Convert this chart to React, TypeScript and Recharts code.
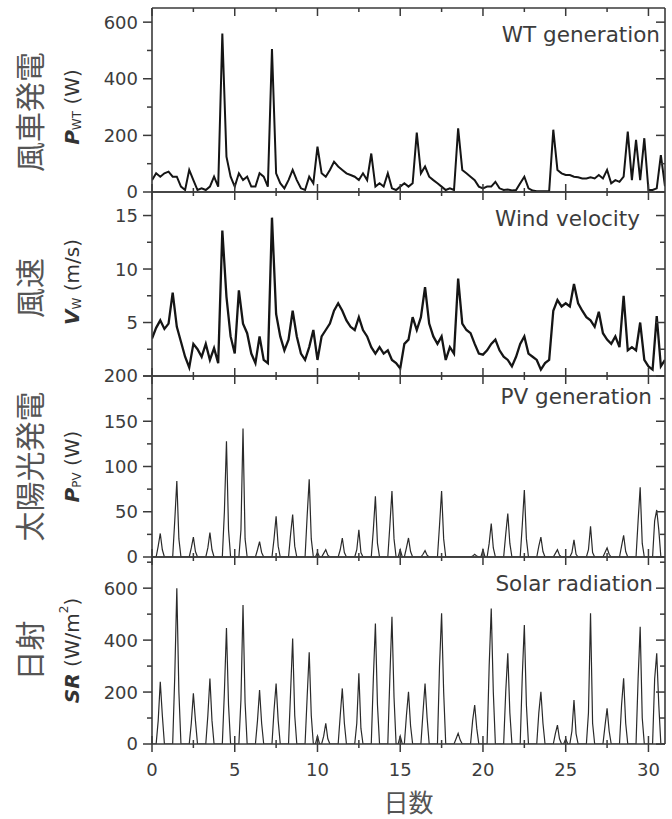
import React from 'react';
import { LineChart, Line, XAxis, YAxis } from 'recharts';

const W = 672;
const H = 819;
const PLOT_LEFT = 152;
const PLOT_RIGHT = 665;
const AXIS_COLOR = '#3a3a3a';
const TEXT_COLOR = '#3c3c3c';
const FONT = '"DejaVu Sans", Arial, sans-serif';
const JP_FONT = '"Noto Sans CJK JP", "Noto Sans CJK SC", sans-serif';

// 6-hour samples (0.25 day), two days per row
const wtPower = [
  42, 66, 54, 66, 72, 54, 54, 19,
  7, 78, 42, 7, 13, 7, 19, 54,
  19, 560, 125, 54, 19, 66, 42, 54,
  19, 19, 66, 54, 19, 505, 66, 31,
  13, 42, 78, 42, 13, 7, 54, 31,
  160, 66, 54, 78, 107, 90, 78, 66,
  60, 54, 42, 66, 42, 136, 19, 31,
  19, 66, 13, 7, 19, 31, 19, 31,
  210, 66, 90, 54, 42, 31, 19, 7,
  13, 7, 225, 78, 66, 54, 42, 19,
  13, 19, 19, 36, 13, 7, 9, 5,
  7, 31, 54, 13, 5, 3, 3, 3,
  3, 220, 78, 66, 60, 60, 54, 52,
  48, 48, 52, 48, 60, 48, 78, 31,
  42, 36, 54, 213, 42, 184, 42, 190,
  7, 7, 13, 130, 20,
];

const windVelocity = [
  3.5, 4.5, 5.2, 4.4, 4.9, 7.8, 4.6, 3.2,
  1.8, 0.8, 3.0, 2.5, 1.8, 3.0, 1.5, 2.6,
  1.2, 13.6, 7.4, 3.7, 2.1, 8.0, 4.9, 4.0,
  2.1, 1.2, 3.7, 1.5, 1.2, 14.8, 5.8, 3.7,
  2.4, 3.4, 6.1, 3.7, 2.1, 1.5, 2.7, 4.3,
  1.5, 3.7, 4.3, 4.9, 6.1, 6.8, 6.1, 5.2,
  4.6, 4.3, 5.5, 4.3, 3.7, 2.7, 2.1, 2.7,
  2.1, 2.4, 1.5, 1.2, 0.7, 3.0, 3.4, 5.5,
  4.3, 5.5, 8.3, 4.9, 3.7, 3.0, 3.7, 1.5,
  2.7, 2.1, 9.1, 4.9, 4.3, 4.0, 3.0, 2.1,
  2.0, 2.4, 3.0, 3.4, 2.4, 1.8, 1.5, 0.9,
  1.8, 3.0, 3.7, 2.1, 1.8, 1.5, 0.6, 1.2,
  1.5, 6.1, 7.1, 6.5, 6.8, 6.5, 8.6, 6.8,
  6.1, 5.5, 5.2, 4.6, 6.0, 4.0, 3.4, 3.0,
  3.7, 2.7, 7.5, 2.4, 2.7, 2.4, 5.0, 1.5,
  0.9, 0.6, 5.6, 0.9, 1.5,
];

// 3-hour samples (0.125 day), one day per row
const solarRadiation = [
  0, 0, 0, 90, 240, 110, 0, 0,
  0, 0, 0, 260, 600, 200, 0, 0,
  0, 0, 0, 80, 195, 90, 0, 0,
  0, 0, 0, 110, 252, 90, 0, 0,
  0, 0, 0, 200, 447, 150, 0, 0,
  0, 0, 0, 170, 535, 160, 0, 0,
  0, 0, 0, 90, 208, 80, 0, 0,
  0, 0, 0, 130, 233, 90, 0, 0,
  0, 0, 0, 200, 406, 110, 0, 0,
  0, 0, 0, 180, 353, 110, 0, 0,
  30, 0, 0, 30, 80, 20, 0, 0,
  0, 0, 0, 110, 214, 80, 0, 0,
  0, 0, 0, 80, 272, 60, 0, 0,
  0, 0, 0, 250, 464, 150, 0, 0,
  0, 0, 0, 260, 490, 180, 0, 0,
  30, 0, 0, 110, 201, 70, 0, 0,
  0, 0, 0, 120, 233, 100, 0, 0,
  0, 0, 0, 300, 503, 200, 0, 0,
  0, 0, 0, 20, 41, 15, 0, 0,
  0, 0, 0, 90, 150, 60, 0, 0,
  0, 0, 0, 300, 522, 200, 0, 0,
  0, 0, 0, 200, 349, 120, 0, 0,
  0, 0, 0, 260, 458, 150, 0, 0,
  0, 0, 0, 120, 201, 80, 0, 0,
  0, 0, 0, 40, 73, 20, 0, 0,
  20, 0, 0, 50, 169, 40, 0, 0,
  0, 0, 0, 120, 503, 80, 0, 0,
  0, 0, 0, 70, 137, 50, 0, 0,
  0, 0, 0, 150, 253, 80, 0, 0,
  0, 0, 0, 250, 451, 100, 0, 0,
  0, 0, 0, 250, 349, 150, 0, 0,
  0,
];

const pvPower = [
  0, 0, 0, 12, 26, 8, 0, 0,
  0, 0, 0, 40, 84, 20, 0, 0,
  0, 0, 0, 10, 22, 6, 0, 0,
  0, 0, 0, 10, 27, 8, 0, 0,
  0, 0, 0, 50, 128, 30, 0, 0,
  0, 0, 0, 30, 142, 20, 0, 0,
  0, 0, 0, 8, 17, 5, 0, 0,
  0, 0, 0, 20, 45, 12, 0, 0,
  0, 0, 0, 25, 47, 12, 0, 0,
  0, 0, 0, 45, 86, 20, 0, 0,
  5, 0, 0, 4, 8, 2, 0, 0,
  0, 0, 0, 8, 21, 5, 0, 0,
  0, 0, 0, 8, 30, 5, 0, 0,
  0, 0, 0, 30, 67, 15, 0, 0,
  0, 0, 0, 35, 73, 20, 0, 0,
  8, 0, 0, 10, 21, 6, 0, 0,
  0, 0, 0, 3, 7, 2, 0, 0,
  0, 0, 0, 35, 73, 20, 0, 0,
  0, 0, 0, 0, 0, 0, 0, 0,
  0, 0, 0, 1, 3, 1, 0, 0,
  8, 0, 0, 15, 37, 10, 0, 0,
  0, 0, 0, 25, 48, 15, 0, 0,
  0, 0, 0, 35, 74, 20, 0, 0,
  0, 0, 0, 12, 22, 6, 0, 0,
  0, 0, 0, 4, 8, 2, 0, 0,
  0, 0, 0, 5, 19, 3, 0, 0,
  0, 0, 0, 8, 34, 5, 0, 0,
  0, 0, 0, 5, 10, 3, 0, 0,
  0, 0, 0, 12, 24, 6, 0, 0,
  0, 0, 0, 40, 77, 15, 0, 0,
  0, 0, 0, 40, 52, 30, 0, 0,
  0,
];

const dayTicks = [0, 2.5, 5, 7.5, 10, 12.5, 15, 17.5, 20, 22.5, 25, 27.5, 30];
const dayLabels = [0, 5, 10, 15, 20, 25, 30];

const windData = wtPower.map((wt, i) => ({ day: i * 0.25, wt, vw: windVelocity[i] }));
const solarData = solarRadiation.map((sr, i) => ({ day: i * 0.125, sr, pv: pvPower[i] }));

const axisLine = { stroke: AXIS_COLOR, strokeWidth: 1.6 };

const isMajor = (v: number, step: number) => Math.abs(v / step - Math.round(v / step)) < 1e-6;

const bottomTick = (withLabels: boolean) => (props: any) => {
  const { x, y, payload } = props;
  const len = isMajor(payload.value, 5) ? 8 : 4;
  return (
    <g>
      <line x1={x} x2={x} y1={y} y2={y - len} stroke={AXIS_COLOR} strokeWidth={1.5} />
      {withLabels && <line x1={x} x2={x} y1={y} y2={y + len} stroke={AXIS_COLOR} strokeWidth={1.5} />}
      {withLabels && dayLabels.includes(payload.value) && (
        <text x={x} y={y + 32} textAnchor="middle" fontSize={18} fontFamily={FONT} fill={TEXT_COLOR}>
          {payload.value}
        </text>
      )}
    </g>
  );
};

const topTick = (props: any) => {
  const { x, y, payload } = props;
  const len = isMajor(payload.value, 5) ? 8 : 4;
  return <line x1={x} x2={x} y1={y} y2={y + len} stroke={AXIS_COLOR} strokeWidth={1.5} />;
};

const leftTick = (step: number, labels: number[]) => (props: any) => {
  const { x, y, payload } = props;
  const len = isMajor(payload.value, step) ? 9 : 5;
  return (
    <g>
      <line x1={x} x2={x - len} y1={y} y2={y} stroke={AXIS_COLOR} strokeWidth={1.5} />
      {labels.includes(payload.value) && (
        <text x={x - 14} y={y} dy="0.36em" textAnchor="end" fontSize={18} fontFamily={FONT} fill={TEXT_COLOR}>
          {payload.value}
        </text>
      )}
    </g>
  );
};

const rightTick = (step: number) => (props: any) => {
  const { x, y, payload } = props;
  const len = isMajor(payload.value, step) ? 9 : 5;
  return <line x1={x} x2={x - len} y1={y} y2={y} stroke={AXIS_COLOR} strokeWidth={1.5} />;
};

type PanelProps = {
  data: any[];
  dataKey: string;
  top: number;
  bottom: number;
  domain: [number, number];
  yTicks: number[];
  yStep: number;
  yLabels: number[];
  title: string;
  titleRight: number;
  titleBaseline: number;
  jpLabel: string;
  jpShift: number;
  varLabel: React.ReactNode;
  varShift: number;
  stroke: string;
  strokeWidth: number;
  showDays?: boolean;
};

const Panel = (p: PanelProps) => {
  const mid = (p.top + p.bottom) / 2;
  const jpY = mid + p.jpShift;
  const varY = mid + p.varShift;

  const yLabel = () => (
    <g>
      <text
        x={28}
        y={jpY}
        transform={`rotate(-90 28 ${jpY})`}
        textAnchor="middle"
        dominantBaseline="central"
        fontSize={30}
        fontFamily={JP_FONT}
        fill="#555"
      >
        {p.jpLabel}
      </text>
      <text
        x={72}
        y={varY}
        transform={`rotate(-90 72 ${varY})`}
        textAnchor="middle"
        dominantBaseline="central"
        fontSize={20}
        fontFamily={FONT}
        fill="#333"
      >
        {p.varLabel}
      </text>
    </g>
  );

  const title = () => (
    <text
      x={p.titleRight}
      y={p.titleBaseline}
      textAnchor="end"
      fontSize={21.5}
      fontFamily={FONT}
      fill={TEXT_COLOR}
    >
      {p.title}
    </text>
  );

  const dayTitle = () => (
    <text x={(PLOT_LEFT + PLOT_RIGHT) / 2} y={812} textAnchor="middle" fontSize={25} fontFamily={JP_FONT} fill="#555">
      日数
    </text>
  );

  // axes of zero size are not drawn, so the top/bottom/right ones get 1px
  return (
    <div style={{ position: 'absolute', left: 0, top: 0 }}>
      <LineChart
        width={W}
        height={H}
        data={p.data}
        margin={{ top: p.top - 1, bottom: H - p.bottom - 1, left: PLOT_LEFT - 60, right: W - PLOT_RIGHT - 1 }}
      >
        <XAxis
          dataKey="day"
          type="number"
          domain={[0, 31]}
          ticks={dayTicks}
          interval={0}
          height={1}
          tickSize={0}
          tickMargin={0}
          axisLine={axisLine}
          tickLine={false}
          tick={bottomTick(!!p.showDays)}
          label={p.showDays ? dayTitle : undefined}
          allowDataOverflow
        />
        <XAxis
          xAxisId="top"
          orientation="top"
          dataKey="day"
          type="number"
          domain={[0, 31]}
          ticks={dayTicks}
          interval={0}
          height={1}
          tickSize={0}
          tickMargin={0}
          axisLine={axisLine}
          tickLine={false}
          tick={topTick}
          allowDataOverflow
        />
        <YAxis
          type="number"
          domain={p.domain}
          ticks={p.yTicks}
          interval={0}
          width={60}
          tickSize={0}
          tickMargin={0}
          axisLine={axisLine}
          tickLine={false}
          tick={leftTick(p.yStep, p.yLabels)}
          label={yLabel}
          allowDataOverflow
        />
        <YAxis
          yAxisId="right"
          orientation="right"
          type="number"
          domain={p.domain}
          ticks={p.yTicks}
          interval={0}
          width={1}
          tickSize={0}
          tickMargin={0}
          axisLine={axisLine}
          tickLine={false}
          tick={rightTick(p.yStep)}
          label={title}
          allowDataOverflow
        />
        <Line
          type="linear"
          dataKey={p.dataKey}
          stroke={p.stroke}
          strokeWidth={p.strokeWidth}
          dot={false}
          isAnimationActive={false}
        />
      </LineChart>
    </div>
  );
};

export default function App() {
  return (
    <div style={{ position: 'absolute', left: 0, top: 0, width: W, height: H, background: '#fff' }}>
      <Panel
        data={windData}
        dataKey="wt"
        top={8}
        bottom={192}
        domain={[0, 650]}
        yTicks={[0, 100, 200, 300, 400, 500, 600]}
        yStep={200}
        yLabels={[0, 200, 400, 600]}
        title="WT generation"
        titleRight={660}
        titleBaseline={42}
        jpLabel="風車発電"
        jpShift={12}
        varLabel={
          <>
            <tspan fontWeight="bold" fontStyle="italic">P</tspan>
            <tspan fontSize={12} dy={5}>WT</tspan>
            <tspan dy={-5}> (W)</tspan>
          </>
        }
        varShift={7}
        stroke="#151515"
        strokeWidth={2}
      />
      <Panel
        data={windData}
        dataKey="vw"
        top={192}
        bottom={376}
        domain={[0, 17.2]}
        yTicks={[0, 2.5, 5, 7.5, 10, 12.5, 15]}
        yStep={5}
        yLabels={[5, 10, 15]}
        title="Wind velocity"
        titleRight={640}
        titleBaseline={226}
        jpLabel="風速"
        jpShift={4}
        varLabel={
          <>
            <tspan fontWeight="bold" fontStyle="italic">V</tspan>
            <tspan fontSize={12} dy={5}>W</tspan>
            <tspan dy={-5}> (m/s)</tspan>
          </>
        }
        varShift={-2}
        stroke="#151515"
        strokeWidth={2.3}
      />
      <Panel
        data={solarData}
        dataKey="pv"
        top={376}
        bottom={557}
        domain={[0, 200]}
        yTicks={[0, 25, 50, 75, 100, 125, 150, 175, 200]}
        yStep={50}
        yLabels={[0, 50, 100, 150, 200]}
        title="PV generation"
        titleRight={652}
        titleBaseline={404}
        jpLabel="太陽光発電"
        jpShift={0}
        varLabel={
          <>
            <tspan fontWeight="bold" fontStyle="italic">P</tspan>
            <tspan fontSize={12} dy={5}>PV</tspan>
            <tspan dy={-5}> (W)</tspan>
          </>
        }
        varShift={0}
        stroke="#2a2a2a"
        strokeWidth={1.2}
      />
      <Panel
        data={solarData}
        dataKey="sr"
        top={557}
        bottom={744}
        domain={[0, 720]}
        yTicks={[0, 100, 200, 300, 400, 500, 600, 700]}
        yStep={200}
        yLabels={[0, 200, 400, 600]}
        title="Solar radiation"
        titleRight={653}
        titleBaseline={591}
        jpLabel="日射"
        jpShift={0}
        varLabel={
          <>
            <tspan fontWeight="bold" fontStyle="italic">SR</tspan>
            <tspan> (W/m</tspan>
            <tspan fontSize={12} dy={-8}>2</tspan>
            <tspan dy={8}>)</tspan>
          </>
        }
        varShift={0}
        stroke="#2a2a2a"
        strokeWidth={1.2}
        showDays
      />
    </div>
  );
}
